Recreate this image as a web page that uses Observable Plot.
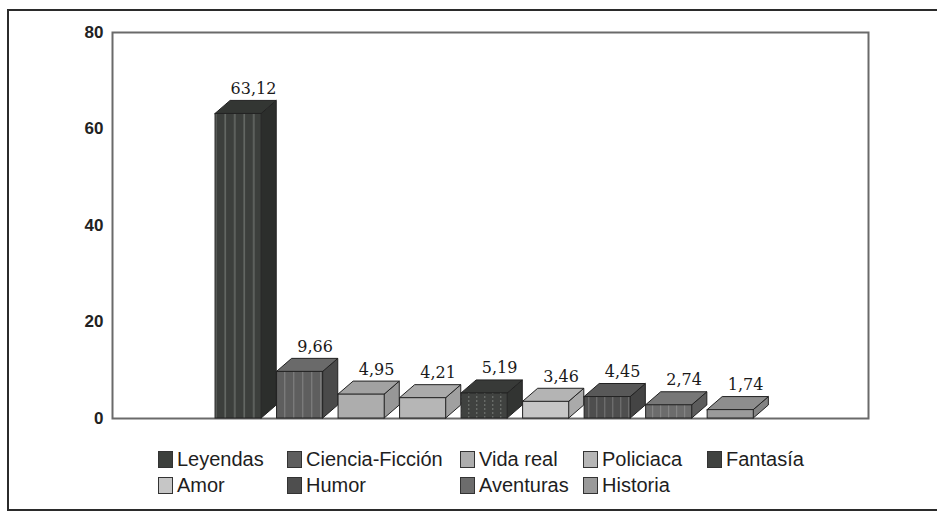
<!DOCTYPE html>
<html><head><meta charset="utf-8">
<script src="https://cdn.jsdelivr.net/npm/d3@7"></script>
<script src="https://cdn.jsdelivr.net/npm/@observablehq/plot@0.6"></script>
<style>
body{margin:0;background:#fff;width:937px;height:519px;overflow:hidden;position:relative;font-family:"Liberation Sans",Arial,sans-serif;}
#box{position:absolute;left:7px;top:9px;width:1000px;height:498px;border:2px solid #2b2b2b;}
#chart{position:absolute;left:0;top:0;}
#legend{position:absolute;left:158px;top:449px;display:grid;grid-template-columns:129px 173px 123px 124px auto;row-gap:6px;font-size:20px;color:#1e1e1e;}
.item{display:flex;align-items:center;height:20px;white-space:nowrap;}
.sw{width:15px;height:17px;border:1.5px solid #333;margin-right:4px;box-sizing:border-box;flex:none;}
</style></head><body>
<svg width="0" height="0" style="position:absolute">
  <defs>
    <pattern id="stripeDark" patternUnits="userSpaceOnUse" width="9.5" height="4">
      <rect width="9.5" height="4" fill="#3c3f3c"/><rect x="6" width="1.6" height="4" fill="#656965"/>
    </pattern>
    <pattern id="stripeMid" patternUnits="userSpaceOnUse" width="9" height="4">
      <rect width="9" height="4" fill="#5e5e5e"/><rect x="5" width="1.4" height="4" fill="#7a7a7a"/>
    </pattern>
    <pattern id="stripeFan" patternUnits="userSpaceOnUse" width="8" height="4">
      <rect width="8" height="4" fill="#404240"/><rect x="4" width="1.4" height="2" fill="#686b68"/>
    </pattern>
    <pattern id="stripeHum" patternUnits="userSpaceOnUse" width="8" height="4">
      <rect width="8" height="4" fill="#4e4e4e"/><rect x="4" width="1.4" height="4" fill="#6c6c6c"/>
    </pattern>
    <pattern id="stripeAve" patternUnits="userSpaceOnUse" width="8" height="4">
      <rect width="8" height="4" fill="#6c6c6c"/><rect x="4" width="1.2" height="4" fill="#848484"/>
    </pattern>
  </defs>
</svg>
<div id="box"></div>
<div id="chart"></div>
<div id="legend"></div>
<script>
const categories = ["Leyendas","Ciencia-Ficción","Vida real","Policiaca","Fantasía","Amor","Humor","Aventuras","Historia"];
const values = [63.12, 9.66, 4.95, 4.21, 5.19, 3.46, 4.45, 2.74, 1.74];
const frontColors = ["#3c3f3c","#5e5e5e","#adadad","#b6b6b6","#404240","#c6c6c6","#4e4e4e","#6c6c6c","#9a9a9a"];
const frontFills  = ["url(#stripeDark)","url(#stripeMid)","#adadad","#b6b6b6","url(#stripeFan)","#c6c6c6","url(#stripeHum)","url(#stripeAve)","#9a9a9a"];
const topColors   = ["#333633","#6a6a6a","#a2a2a2","#aaaaaa","#383a38","#b4b4b4","#585858","#777777","#8e8e8e"];
const sideColors  = ["#2c2e2c","#4a4a4a","#979797","#a0a0a0","#323432","#aaaaaa","#444444","#5c5c5c","#838383"];
const yTicks = [0, 20, 40, 60, 80];

const W = 0.75, DX = 0.245, DY = 2.7;
const bars = categories.map((c, i) => ({c, i, v: values[i], front: frontFills[i], top: topColors[i], side: sideColors[i]}));
const sidePts = bars.flatMap(b => [
  {c: b.c, x: b.i + W/2, y1: 0, y2: b.v, fill: b.side},
  {c: b.c, x: b.i + W/2 + DX, y1: DY, y2: b.v + DY, fill: b.side}
]);
const topPts = bars.flatMap(b => [
  {c: b.c, y: b.v, x1: b.i - W/2, x2: b.i + W/2, fill: b.top},
  {c: b.c, y: b.v + DY, x1: b.i - W/2 + DX, x2: b.i + W/2 + DX, fill: b.top}
]);

const chart = Plot.plot({
  width: 937, height: 430,
  marginLeft: 112, marginRight: 69, marginTop: 32, marginBottom: 12,
  x: {domain: [-2.05, 10.24], axis: null},
  y: {domain: [0, 80], ticks: yTicks, tickSize: 0, tickPadding: 9, label: null},
  color: {type: "identity"},
  style: {fontFamily: "Liberation Sans, Arial, sans-serif", fontSize: "17px", fontWeight: "bold", color: "#222", background: "transparent"},
  marks: [
    Plot.frame({stroke: "#6a6a6a", strokeWidth: 2}),
    Plot.areaY(sidePts, {x: "x", y1: "y1", y2: "y2", z: "c", fill: "fill", stroke: "#222", strokeWidth: 1}),
    Plot.areaX(topPts, {y: "y", x1: "x1", x2: "x2", z: "c", fill: "fill", stroke: "#222", strokeWidth: 1}),
    Plot.rect(bars, {x1: b => b.i - W/2, x2: b => b.i + W/2, y1: 0, y2: "v", fill: "front", stroke: "#222", strokeWidth: 1}),
    Plot.text(bars, {x: b => b.i + DX/2 + 0.12, y: b => b.v + DY, text: b => b.v.toFixed(2).replace(".", ","), dy: -7, lineAnchor: "bottom", fontFamily: "DejaVu Serif", fontSize: 16, fontWeight: "normal", fill: "#1a1a1a"})
  ]
});
document.getElementById("chart").append(chart);

const legend = document.getElementById("legend");
categories.forEach((c, i) => {
  const item = document.createElement("div");
  item.className = "item";
  const sw = document.createElement("span");
  sw.className = "sw";
  sw.style.background = frontColors[i];
  item.append(sw, document.createTextNode(c));
  legend.append(item);
});
</script>
</body></html>
